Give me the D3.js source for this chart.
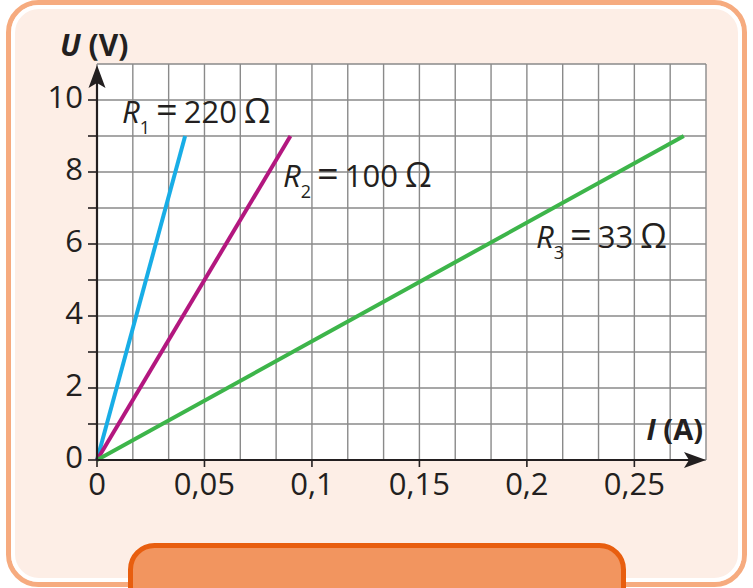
<!DOCTYPE html>
<html>
<head>
<meta charset="utf-8">
<script src="https://cdn.jsdelivr.net/npm/d3@7"></script>
<style>
  body { margin: 0; background: #fff; }
  svg { display: block; font-family: "Open Sans", sans-serif; }
</style>
</head>
<body>
<div id="chart"></div>
<script>
// values
const seriesNames = ['1', '2', '3'];
const seriesLabels = ['220', '100', '33'];
const seriesColors = ['#18ade6', '#b3177f', '#3db54a'];
const currentEnd = [0.041, 0.09, 0.273];   // I (A) at the top end of each line
const voltageEnd = [9, 9, 9];              // U (V) at the top end
const currentTicks = [0, 0.05, 0.1, 0.15, 0.2, 0.25];
const currentTickLabels = ['0', '0,05', '0,1', '0,15', '0,2', '0,25'];
const voltageTicks = [0, 2, 4, 6, 8, 10];
const voltageMinor = [0, 1, 2, 3, 4, 5, 6, 7, 8, 9, 10];
const currentGrid = [0, 1, 2, 3, 4, 5, 6, 7, 8, 9, 10, 11, 12, 13, 14, 15, 16, 17].map(k => k / 60);
const voltageGrid = [0, 1, 2, 3, 4, 5, 6, 7, 8, 9, 10, 11];

const width = 753, height = 588;
const svg = d3.select('#chart').append('svg')
    .attr('width', width)
    .attr('height', height);

// frame
svg.append('rect')
    .attr('x', 8.5).attr('y', 2.5)
    .attr('width', 736).attr('height', 582)
    .attr('rx', 30)
    .attr('fill', '#fdeee6')
    .attr('stroke', '#f6ab7f')
    .attr('stroke-width', 5);
svg.append('rect')
    .attr('x', 13).attr('y', 7)
    .attr('width', 727).attr('height', 573)
    .attr('rx', 26)
    .attr('fill', 'none')
    .attr('stroke', '#fff')
    .attr('stroke-width', 4);

// bottom tab
svg.append('rect')
    .attr('x', 130.5).attr('y', 545.5)
    .attr('width', 493).attr('height', 80)
    .attr('rx', 24)
    .attr('fill', '#f2955f')
    .attr('stroke', '#e85e0f')
    .attr('stroke-width', 5);

const x = d3.scaleLinear().domain([0, 17 / 60]).range([97, 706]);
const y = d3.scaleLinear().domain([0, 11]).range([460, 64]);

const ink = '#231f20';

// plot background + grid
svg.append('rect')
    .attr('x', x(0)).attr('y', y(11))
    .attr('width', x(17 / 60) - x(0)).attr('height', y(0) - y(11))
    .attr('fill', '#fff');

const grid = svg.append('g')
    .attr('stroke', '#8a8a8a')
    .attr('stroke-width', 1.4);
grid.selectAll('.v').data(currentGrid).enter().append('line')
    .attr('x1', d => x(d)).attr('x2', d => x(d))
    .attr('y1', y(0)).attr('y2', y(11));
grid.selectAll('.h').data(voltageGrid).enter().append('line')
    .attr('x1', x(0)).attr('x2', x(17 / 60))
    .attr('y1', d => y(d)).attr('y2', d => y(d));

// series
const lines = seriesNames.map((n, i) => ({
    name: n, label: seriesLabels[i], color: seriesColors[i],
    pts: [[0, 0], [currentEnd[i], voltageEnd[i]]]
}));
const lineGen = d3.line().x(d => x(d[0])).y(d => y(d[1]));
svg.append('g').selectAll('path').data(lines).enter().append('path')
    .attr('d', d => lineGen(d.pts))
    .attr('fill', 'none')
    .attr('stroke', d => d.color)
    .attr('stroke-width', 4);

// axes
const axes = svg.append('g');
axes.append('line')
    .attr('x1', x(0)).attr('x2', 690)
    .attr('y1', y(0)).attr('y2', y(0))
    .attr('stroke', ink).attr('stroke-width', 2.2);
axes.append('line')
    .attr('x1', x(0)).attr('x2', x(0))
    .attr('y1', y(0)).attr('y2', 80)
    .attr('stroke', ink).attr('stroke-width', 2.2);
axes.append('path')
    .attr('d', `M706,${y(0)} L684,${y(0) - 8} L689,${y(0)} L684,${y(0) + 8} Z`)
    .attr('fill', ink);
axes.append('path')
    .attr('d', `M${x(0)},65 L${x(0) - 8.5},88 L${x(0)},83 L${x(0) + 8.5},88 Z`)
    .attr('fill', ink);

// y ticks
axes.selectAll('.yt').data(voltageMinor).enter().append('line')
    .attr('x1', x(0) - 9).attr('x2', x(0))
    .attr('y1', d => y(d)).attr('y2', d => y(d))
    .attr('stroke', ink).attr('stroke-width', 1.6);
axes.selectAll('.yl').data(voltageTicks).enter().append('text')
    .attr('x', 83).attr('y', d => y(d) + 8)
    .attr('text-anchor', 'end')
    .style('font-size', '31px')
    .style('fill', ink)
    .text(d => d);

// x ticks
axes.selectAll('.xt').data(currentTicks).enter().append('line')
    .attr('x1', d => x(d)).attr('x2', d => x(d))
    .attr('y1', y(0)).attr('y2', y(0) + 7)
    .attr('stroke', ink).attr('stroke-width', 1.6);
axes.selectAll('.xl').data(currentTicks).enter().append('text')
    .attr('x', d => x(d)).attr('y', 495)
    .attr('text-anchor', 'middle')
    .style('font-size', '31px')
    .style('fill', ink)
    .text((d, i) => currentTickLabels[i]);

// axis titles
const uTitle = svg.append('text')
    .attr('x', 60).attr('y', 56)
    .style('font-size', '30px').style('font-weight', 700).style('fill', ink);
uTitle.append('tspan').style('font-style', 'italic').text('U');
uTitle.append('tspan').text(' (V)');

const iTitle = svg.append('text')
    .attr('x', 703).attr('y', 440)
    .attr('text-anchor', 'end')
    .style('font-size', '29px').style('font-weight', 700).style('fill', ink);
iTitle.append('tspan').style('font-style', 'italic').text('I');
iTitle.append('tspan').text(' (A)');

// series labels
const labelPos = [[122, 123], [283, 187], [536, 248]];
lines.forEach((d, i) => {
    const t = svg.append('text')
        .attr('x', labelPos[i][0]).attr('y', labelPos[i][1])
        .style('font-size', '31px').style('fill', ink);
    t.append('tspan').style('font-style', 'italic').text('R');
    t.append('tspan').attr('dy', 11).style('font-size', '18px').text(d.name);
    t.append('tspan').attr('dy', -11).attr('dx', 6).style('font-size', '38px').text('=');
    t.append('tspan').attr('dx', 6).text(d.label);
    t.append('tspan').attr('dx', 7).style('font-size', '34px').text('Ω');
});
</script>
</body>
</html>
